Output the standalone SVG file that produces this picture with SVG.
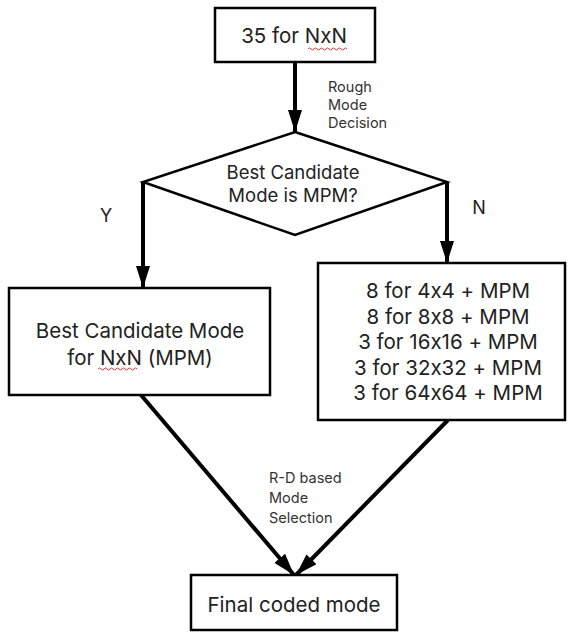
<svg xmlns="http://www.w3.org/2000/svg" width="574" height="634" viewBox="0 0 574 634">
<defs>
<style>
.box{fill:#fff;stroke:#000;stroke-width:2.5}
.t{font-family:Inter,"Open Sans","DejaVu Sans",sans-serif;fill:#222;text-anchor:middle;font-feature-settings:"calt" 0;font-variant-ligatures:none}
.big{font-size:20.5px}
.mid{font-size:18.5px}
.rb{font-size:20.5px}
.lbl{font-family:Inter,"Open Sans","DejaVu Sans",sans-serif;fill:#333;font-size:14.5px}
.con{stroke:#000;stroke-width:4;fill:none}
.sq{fill:none;stroke:#d33;stroke-width:1}
</style>
<marker id="ah" markerUnits="userSpaceOnUse" markerWidth="24" markerHeight="14" refX="22" refY="7" orient="auto">
<path d="M0,0 L22,7 L0,14 z" fill="#000"/>
</marker>
</defs>
<rect width="574" height="634" fill="#fff"/>
<g id="connectors">
<line class="con" x1="295" y1="62" x2="295" y2="132" marker-end="url(#ah)"/>
<line class="con" x1="143" y1="182" x2="143" y2="288" marker-end="url(#ah)"/>
<line class="con" x1="447" y1="182" x2="447" y2="263" marker-end="url(#ah)"/>
<line class="con" x1="141" y1="395" x2="294" y2="575" marker-end="url(#ah)"/>
<line class="con" x1="448" y1="420" x2="296" y2="575" marker-end="url(#ah)"/>
<text class="lbl" x="328" y="92">Rough</text>
<text class="lbl" x="328" y="110">Mode</text>
<text class="lbl" x="328" y="128">Decision</text>
<text class="lbl" x="269" y="483">R-D based</text>
<text class="lbl" x="269" y="503">Mode</text>
<text class="lbl" x="269" y="523">Selection</text>
<text class="t" x="106" y="222" style="font-size:18px">Y</text>
<text class="t" x="479" y="214" style="font-size:18px">N</text>
</g>
<g id="start">
<rect class="box" x="215" y="8" width="160" height="54"/>
<text class="t big" x="294" y="43">35 for NxN</text>
<path class="sq" d="M308,49 q1.5,-2 3,0 t3,0 t3,0 t3,0 t3,0 t3,0 t3,0 t3,0 t3,0 t3,0 t3,0 t3,0 t3,0"/>
</g>
<g id="decision">
<polygon class="box" points="295,132 447,182 295,235 143,182"/>
<text class="t mid" x="293" y="179">Best Candidate</text>
<text class="t mid" x="293" y="202">Mode is MPM?</text>
</g>
<g id="mpm">
<rect class="box" x="9" y="288" width="261" height="107"/>
<text class="t big" x="140" y="338">Best Candidate Mode</text>
<text class="t big" x="140" y="365">for NxN (MPM)</text>
<path class="sq" d="M98,369 q1.5,-2 3,0 t3,0 t3,0 t3,0 t3,0 t3,0 t3,0 t3,0 t3,0 t3,0 t3,0 t3,0 t3,0"/>
</g>
<g id="candidates">
<rect class="box" x="318" y="263" width="247" height="157"/>
<text class="t rb" x="448" y="298">8 for 4x4 + MPM</text>
<text class="t rb" x="448" y="323.5">8 for 8x8 + MPM</text>
<text class="t rb" x="448" y="349">3 for 16x16 + MPM</text>
<text class="t rb" x="448" y="374.5">3 for 32x32 + MPM</text>
<text class="t rb" x="448" y="400">3 for 64x64 + MPM</text>
</g>
<g id="final">
<rect class="box" x="191" y="575" width="206" height="55"/>
<text class="t big" x="294" y="612">Final  coded mode</text>
</g>
</svg>
